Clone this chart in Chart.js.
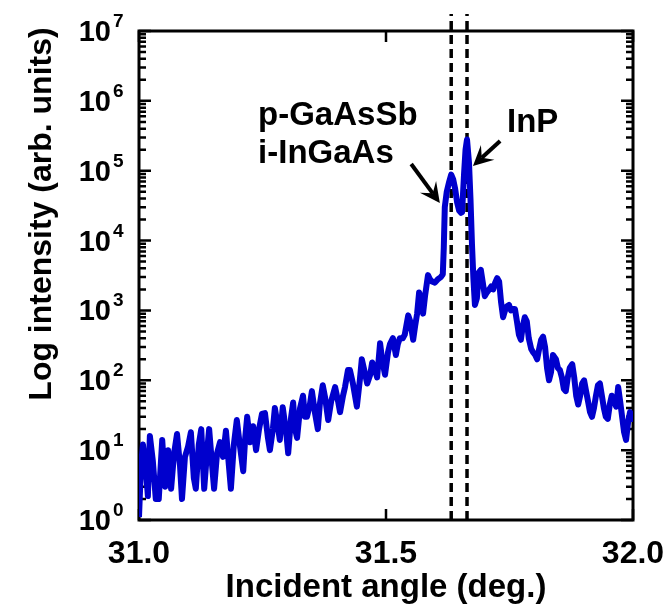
<!DOCTYPE html>
<html>
<head>
<meta charset="utf-8">
<script src="https://cdn.jsdelivr.net/npm/chart.js@4.4.0/dist/chart.umd.min.js"></script>
<style>
  html, body { margin: 0; padding: 0; background: #fff; }
</style>
</head>
<body>
<canvas id="xrdChart" width="670" height="609"></canvas>
<script>
// incident angle (deg.) and intensity (arb. units)
var angle = [
  31.000,31.004,31.008,31.014,31.018,31.022,31.028,31.034,31.040,31.047,
  31.053,31.059,31.065,31.071,31.077,31.083,31.087,31.093,31.099,31.105,
  31.111,31.115,31.121,31.126,31.132,31.138,31.142,31.148,31.152,31.158,
  31.164,31.170,31.176,31.182,31.186,31.192,31.198,31.204,31.211,31.215,
  31.219,31.225,31.231,31.237,31.243,31.249,31.255,31.261,31.265,31.271,
  31.275,31.281,31.285,31.291,31.298,31.302,31.308,31.312,31.316,31.320,
  31.326,31.332,31.336,31.340,31.346,31.350,31.356,31.362,31.366,31.372,
  31.377,31.383,31.389,31.397,31.403,31.407,31.413,31.417,31.423,31.427,
  31.433,31.441,31.447,31.451,31.455,31.462,31.468,31.472,31.478,31.482,
  31.488,31.492,31.498,31.504,31.508,31.514,31.520,31.524,31.528,31.534,
  31.538,31.545,31.549,31.555,31.559,31.563,31.567,31.571,31.575,31.579,
  31.585,31.589,31.593,31.599,31.605,31.611,31.615,31.617,31.619,31.623,
  31.628,31.632,31.636,31.640,31.644,31.648,31.652,31.654,31.658,31.661,
  31.664,31.668,31.671,31.674,31.677,31.680,31.684,31.688,31.692,31.696,
  31.700,31.704,31.709,31.713,31.717,31.721,31.725,31.729,31.733,31.737,
  31.741,31.745,31.749,31.753,31.757,31.761,31.765,31.769,31.773,31.777,
  31.781,31.785,31.789,31.794,31.798,31.802,31.806,31.810,31.814,31.818,
  31.822,31.826,31.830,31.834,31.838,31.844,31.848,31.852,31.856,31.860,
  31.864,31.868,31.872,31.877,31.881,31.885,31.889,31.893,31.897,31.901,
  31.905,31.909,31.913,31.917,31.921,31.925,31.929,31.933,31.937,31.941,
  31.945,31.949,31.953,31.957,31.962,31.966,31.970,31.974,31.978,31.982,
  31.986,31.990,31.994,31.998,32.000
];
var intensity = [
  1.1,6,12,5,2.2,16,7,2.0,2.0,14,
  3,10,2.8,9,17,6,2.0,8,11,18,
  4,2.8,12,20,2.8,10,20,6,2.8,9,
  13,8,19,6,2.8,12,27,12,5,15,
  30,13,22,10,20,33,34,15,10,20,
  40,22,14,41,18,9,30,48,20,15,
  40,60,30,30,45,70,35,20,45,85,
  55,27,50,80,50,35,60,80,140,140,
  90,42,100,200,150,90,120,180,140,110,
  340,200,120,250,330,400,230,330,400,400,
  450,850,700,380,600,900,1800,1500,900,1600,
  3200,2800,2600,2500,2800,3000,3300,8000,30000,50000,
  70000,88000,75000,55000,35000,27000,25000,25500,90000,200000,
  280000,130000,40000,9000,2800,1200,1500,3500,3800,2500,
  1600,1800,2000,2200,2000,2500,2900,2600,1300,800,
  1000,1150,1200,1000,1050,1050,700,450,380,600,
  800,700,400,280,250,230,200,280,380,420,
  300,150,100,130,230,200,150,140,110,75,
  70,110,150,170,110,60,45,60,90,100,
  70,50,35,30,40,60,85,90,60,40,
  30,28,45,60,50,42,80,50,30,18,
  14,25,35,28,30
];

// dashed reference lines (peak positions)
var markerAngles = [31.632, 31.664];

var xTicks = [31.0, 31.5, 32.0];
var xTickLabels = ['31.0', '31.5', '32.0'];
var yTicks = [1, 10, 100, 1e3, 1e4, 1e5, 1e6, 1e7];
var yTickExp = ['0', '1', '2', '3', '4', '5', '6', '7'];

var FONT = '"Liberation Sans", Arial, sans-serif';

function boldText(ctx, txt, x, y, size, align) {
  ctx.save();
  ctx.font = 'bold ' + size + 'px ' + FONT;
  ctx.textAlign = align || 'left';
  ctx.textBaseline = 'alphabetic';
  ctx.fillStyle = '#000';
  ctx.fillText(txt, x, y);
  ctx.restore();
}

function arrow(ctx, x1, y1, x2, y2) {
  var a = Math.atan2(y2 - y1, x2 - x1);
  var c = Math.cos(a), s = Math.sin(a);
  var head = 20, w = 10;
  ctx.save();
  ctx.strokeStyle = '#000';
  ctx.fillStyle = '#000';
  ctx.lineWidth = 4;
  ctx.beginPath();
  ctx.moveTo(x1, y1);
  ctx.lineTo(x2 - head * 0.6 * c, y2 - head * 0.6 * s);
  ctx.stroke();
  ctx.beginPath();
  ctx.moveTo(x2, y2);
  ctx.lineTo(x2 - head * c + w * s, y2 - head * s - w * c);
  ctx.lineTo(x2 - head * 0.6 * c, y2 - head * 0.6 * s);
  ctx.lineTo(x2 - head * c - w * s, y2 - head * s + w * c);
  ctx.closePath();
  ctx.fill();
  ctx.restore();
}

var framePlugin = {
  id: 'frame',
  beforeDatasetsDraw: function (chart) {
    var ctx = chart.ctx, a = chart.chartArea;
    var xs = chart.scales.x, ys = chart.scales.y;
    ctx.save();
    ctx.strokeStyle = '#000';
    ctx.lineWidth = 3;
    ctx.strokeRect(a.left, a.top, a.right - a.left, a.bottom - a.top);
    ctx.lineWidth = 2.5;
    ctx.beginPath();
    // y ticks, inside, both sides
    for (var d = 0; d < yTicks.length; d++) {
      for (var m = 1; m < 10; m++) {
        var v = yTicks[d] * m;
        if (v > ys.max) break;
        var py = ys.getPixelForValue(v);
        var len = m === 1 ? 12 : 7;
        ctx.moveTo(a.left, py); ctx.lineTo(a.left + len, py);
        ctx.moveTo(a.right, py); ctx.lineTo(a.right - len, py);
      }
    }
    // x ticks
    xTicks.forEach(function (t) {
      var px = xs.getPixelForValue(t);
      ctx.moveTo(px, a.bottom); ctx.lineTo(px, a.bottom - 11);
      ctx.moveTo(px, a.top); ctx.lineTo(px, a.top + 11);
    });
    ctx.stroke();
    ctx.restore();
  },
  afterDatasetsDraw: function (chart) {
    var ctx = chart.ctx, a = chart.chartArea;
    var xs = chart.scales.x, ys = chart.scales.y;

    // y tick labels 10^n
    yTicks.forEach(function (t, i) {
      var py = ys.getPixelForValue(t);
      boldText(ctx, '10', 111, py + 10, 29, 'right');
      boldText(ctx, yTickExp[i], 113, py - 4, 19, 'left');
    });
    // x tick labels
    xTicks.forEach(function (t, i) {
      boldText(ctx, xTickLabels[i], xs.getPixelForValue(t), 563, 32, 'center');
    });
    // axis titles
    boldText(ctx, 'Incident angle (deg.)', (a.left + a.right) / 2, 597, 33, 'center');
    ctx.save();
    ctx.font = 'bold 32px ' + FONT;
    ctx.fillStyle = '#000';
    ctx.translate(42, 214);
    ctx.rotate(-Math.PI / 2);
    ctx.textAlign = 'center';
    ctx.textBaseline = 'middle';
    ctx.fillText('Log intensity (arb. units)', 0, 0);
    ctx.restore();

    // peak labels and arrows
    boldText(ctx, 'p-GaAsSb', xs.getPixelForValue(31.241), ys.getPixelForValue(4.5e5), 33, 'left');
    boldText(ctx, 'i-InGaAs', xs.getPixelForValue(31.241), ys.getPixelForValue(1.29e5), 33, 'left');
    boldText(ctx, 'InP', xs.getPixelForValue(31.745), ys.getPixelForValue(3.6e5), 33, 'left');
    arrow(ctx, xs.getPixelForValue(31.551), ys.getPixelForValue(1.25e5),
               xs.getPixelForValue(31.609), ys.getPixelForValue(3.45e4));
    arrow(ctx, xs.getPixelForValue(31.731), ys.getPixelForValue(2.66e5),
               xs.getPixelForValue(31.676), ys.getPixelForValue(1.17e5));
  }
};

var datasets = [{
  data: angle.map(function (a, i) { return { x: a, y: intensity[i] }; }),
  borderColor: 'rgb(0, 0, 205)',
  borderWidth: 6,
  borderJoinStyle: 'round',
  pointRadius: 0,
  tension: 0
}];
markerAngles.forEach(function (m) {
  datasets.push({
    data: [{ x: m, y: 1 }, { x: m, y: 1.75e7 }],
    borderColor: '#000',
    borderWidth: 3.5,
    borderDash: [9, 5],
    pointRadius: 0,
    clip: false
  });
});

var ctx = document.getElementById('xrdChart').getContext('2d');
var chart = new Chart(ctx, {
  type: 'line',
  data: { datasets: datasets },
  options: {
    responsive: false,
    animation: false,
    devicePixelRatio: 1,
    layout: { padding: { left: 139, right: 37, top: 31, bottom: 89 } },
    plugins: { legend: { display: false }, tooltip: { enabled: false } },
    scales: {
      x: { type: 'linear', min: 31, max: 32, display: false },
      y: { type: 'logarithmic', min: 1, max: 1e7, display: false }
    }
  },
  plugins: [framePlugin]
});
</script>
</body>
</html>
